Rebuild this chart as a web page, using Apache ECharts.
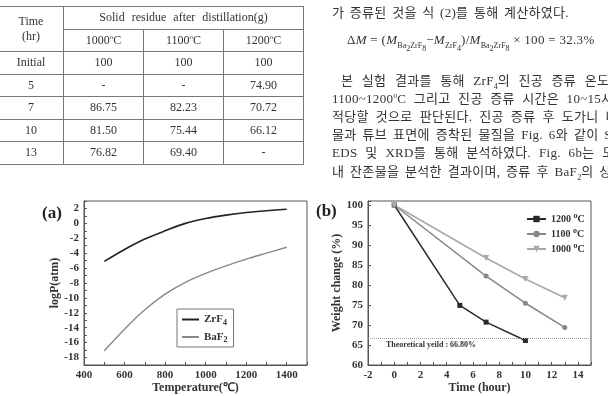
<!DOCTYPE html>
<html>
<head>
<meta charset="utf-8">
<script src="https://cdn.jsdelivr.net/npm/echarts@6/dist/echarts.min.js"></script>
<style>
  html, body { margin: 0; padding: 0; background: #fff; }
  body { width: 608px; height: 396px; position: relative; overflow: hidden; }
  #chart { position: absolute; left: 0; top: 0; width: 608px; height: 396px; }
  #tbl { position: absolute; left: -2px; top: 6px; border-collapse: collapse;
         font-family: "Liberation Serif", serif; font-size: 12px; color: #333; }
  #tbl td { border: 1px solid #777; text-align: center; padding: 0; height: 21.5px; }
  .ln { position: absolute; white-space: nowrap; font-family: "Liberation Serif", "Noto Sans CJK KR", serif;
        font-size: 13px; line-height: 18px; color: #333; letter-spacing: 0.3px; }
  .ln sub { font-size: 8px; line-height: 0; letter-spacing: 0; }
  .ln sup { font-size: 8px; line-height: 0; letter-spacing: 0; }
</style>
</head>
<body>
<div id="chart"></div>
<table id="tbl"></table>
<div id="txt"></div>
<script>
// 표 데이터 (Solid residue after distillation)
const tempCols = ['1000', '1100', '1200'];
const timeRows = ['Initial', '5', '7', '10', '13'];
const hours = [0, 5, 7, 10, 13];
const residue1000 = [100, null, 86.75, 81.50, 76.82];
const residue1100 = [100, null, 82.23, 75.44, 69.40];
const residue1200 = [100, 74.90, 70.72, 66.12, null];
const theoreticalYield = 66.80;

// (a) 증기압 곡선
const temps = [500, 600, 700, 800, 900, 1000, 1100, 1200, 1300, 1400];
const logpZrF4 = [-5.1, -3.5, -2.1, -1.0, 0.0, 0.65, 1.1, 1.45, 1.7, 1.9];
const logpBaF2 = [-17.1, -14.2, -11.6, -9.5, -7.9, -6.7, -5.7, -4.8, -4.0, -3.2];

// 본문 텍스트 [x, 중심 y, 내용, 단어 간격]
const textLines = [
  [332, 13, '가 증류된 것을 식 (2)를 통해 계산하였다.', 2],
  [347, 40, '&Delta;<i>M</i> = (<i>M</i><sub>Ba<sub>2</sub>ZrF<sub>8</sub></sub>&minus;<i>M</i><sub>ZrF<sub>4</sub></sub>)/<i>M</i><sub>Ba<sub>2</sub>ZrF<sub>8</sub></sub> &times; 100 = 32.3%', 0],
  [341, 81, '본 실험 결과를 통해 ZrF<sub>4</sub>의 진공 증류 온도는', 5],
  [332, 99, '1100~1200<sup>o</sup>C 그리고 진공 증류 시간은 10~15시간이', 4],
  [332, 117, '적당할 것으로 판단된다. 진공 증류 후 도가니 내 잔존', 3.5],
  [332, 135, '물과 튜브 표면에 증착된 물질을 Fig. 6와 같이 SEM-', 2.4],
  [332, 153, 'EDS 및 XRD를 통해 분석하였다. Fig. 6b는 도가니', 4.3],
  [332, 172, '내 잔존물을 분석한 결과이며, 증류 후 BaF<sub>2</sub>의 상이', 2.3]
];

// 표 만들기
let tbl = document.getElementById('tbl');
let html = '<tr><td rowspan="2" style="width:64px">Time<br>(hr)</td>' +
  '<td colspan="3" style="word-spacing:4px">Solid residue after distillation(g)</td></tr><tr>';
tempCols.forEach(t => { html += '<td style="width:79px">' + t + '<sup style="font-size:7px">o</sup>C</td>'; });
html += '</tr>';
const fmt = v => v === null ? '-' : (v === 100 ? '100' : v.toFixed(2));
timeRows.forEach((r, i) => {
  html += '<tr><td>' + r + '</td><td>' + fmt(residue1000[i]) + '</td><td>' +
    fmt(residue1100[i]) + '</td><td>' + fmt(residue1200[i]) + '</td></tr>';
});
tbl.innerHTML = html;

let txt = document.getElementById('txt');
textLines.forEach(l => {
  let d = document.createElement('div');
  d.className = 'ln';
  d.style.left = l[0] + 'px';
  d.style.top = (l[1] - 9) + 'px';
  d.style.wordSpacing = l[3] + 'px';
  d.innerHTML = l[2];
  txt.appendChild(d);
});

const serif = '"Liberation Serif", "Times New Roman", serif';
const toPairs = (xs, ys) => xs.map((x, i) => [x, ys[i]]).filter(p => p[1] !== null);

let chart = echarts.init(document.getElementById('chart'));

const axisCommon = {
  axisLine: { show: true, onZero: false, lineStyle: { color: '#555', width: 1 } },
  axisTick: { show: true, inside: true, length: 3, lineStyle: { color: '#555' } },
  splitLine: { show: false },
  nameLocation: 'middle',
  nameTextStyle: { fontFamily: serif, fontWeight: 'bold', fontSize: 12, color: '#333' }
};
const labelStyle = { fontFamily: serif, fontWeight: 'bold', fontSize: 11, color: '#333' };
const richSub = { sub: { fontSize: 8, fontFamily: serif, fontWeight: 'bold', color: '#333', padding: [6, 0, 0, 0] } };
const richSup = { sup: { fontSize: 8, fontFamily: serif, fontWeight: 'bold', color: '#333', padding: [0, 0, 6, 0] } };

let option = {
  animation: false,
  grid: [
    { left: 84, top: 201, width: 223, height: 164, show: true, borderColor: '#555', borderWidth: 1 },
    { left: 368, top: 201, width: 223, height: 164, show: true, borderColor: '#555', borderWidth: 1 }
  ],
  xAxis: [
    Object.assign({}, axisCommon, {
      gridIndex: 0, type: 'value', min: 400, max: 1500, interval: 100,
      name: 'Temperature(\u2103)', nameGap: 17,
      axisLabel: Object.assign({}, labelStyle, { margin: 5,
        formatter: v => (v % 200 === 0 && v < 1500) ? String(v) : '' })
    }),
    Object.assign({}, axisCommon, {
      gridIndex: 1, type: 'value', min: -2, max: 15, interval: 1,
      name: 'Time (hour)', nameGap: 17,
      axisLabel: Object.assign({}, labelStyle, { margin: 5,
        formatter: v => (v % 2 === 0 && v < 15) ? String(v) : '' })
    })
  ],
  yAxis: [
    Object.assign({}, axisCommon, {
      gridIndex: 0, type: 'value', min: -19, max: 3, interval: 1,
      name: 'logP(atm)', nameGap: 19,
      axisLabel: Object.assign({}, labelStyle, { margin: 5,
        formatter: v => (v % 2 === 0) ? String(v) : '' })
    }),
    Object.assign({}, axisCommon, {
      gridIndex: 1, type: 'value', min: 60, max: 101, interval: 5,
      name: 'Weight change (%)', nameGap: 22,
      axisLabel: Object.assign({}, labelStyle, { margin: 5,
        formatter: v => (v % 5 === 0) ? String(v) : '' })
    })
  ],
  legend: [
    {
      data: [{ name: 'ZrF4', icon: 'rect' }, { name: 'BaF2', icon: 'rect' }],
      orient: 'vertical', left: 177, top: 309,
      borderColor: '#777', borderWidth: 1, padding: [5, 6, 3, 5], itemGap: 5,
      itemWidth: 17, itemHeight: 2,
      formatter: n => n.replace(/(\d)/, '{sub|$1}'),
      textStyle: Object.assign({}, labelStyle, { rich: richSub })
    },
    {
      data: ['1200', '1100', '1000'], orient: 'vertical', left: 521, top: 207, itemGap: 3,
      itemWidth: 19, itemHeight: 8,
      formatter: n => n + ' {sup|o}C',
      textStyle: Object.assign({}, labelStyle, { fontSize: 10, rich: richSup })
    }
  ],
  graphic: [
    { type: 'text', left: 42, top: 205, style: { text: '(a)', font: 'bold 17px ' + serif, fill: '#222' } },
    { type: 'text', left: 316, top: 203, style: { text: '(b)', font: 'bold 17px ' + serif, fill: '#222' } }
  ],
  series: [
    { name: 'ZrF4', type: 'line', xAxisIndex: 0, yAxisIndex: 0, smooth: 0.3, symbol: 'none',
      lineStyle: { color: '#222', width: 1.6 }, itemStyle: { color: '#222' },
      data: toPairs(temps, logpZrF4) },
    { name: 'BaF2', type: 'line', xAxisIndex: 0, yAxisIndex: 0, smooth: 0.3, symbol: 'none',
      lineStyle: { color: '#888', width: 1.4 }, itemStyle: { color: '#888' },
      data: toPairs(temps, logpBaF2) },
    { name: '1200', type: 'line', xAxisIndex: 1, yAxisIndex: 1, symbol: 'rect', symbolSize: 5,
      lineStyle: { color: '#2a2a2a', width: 1.5 }, itemStyle: { color: '#2a2a2a' },
      data: toPairs(hours, residue1200),
      markLine: {
        silent: true, symbol: 'none',
        lineStyle: { type: 'dotted', color: '#999', width: 1 },
        label: { position: 'insideStartBottom', distance: [18, 3],
          formatter: 'Theoretical yeild : ' + theoreticalYield.toFixed(2) + '%',
          fontFamily: serif, fontWeight: 'bold', fontSize: 8, color: '#333' },
        data: [{ yAxis: theoreticalYield }]
      } },
    { name: '1100', type: 'line', xAxisIndex: 1, yAxisIndex: 1, symbol: 'circle', symbolSize: 5,
      lineStyle: { color: '#888', width: 1.5 }, itemStyle: { color: '#888' },
      data: toPairs(hours, residue1100) },
    { name: '1000', type: 'line', xAxisIndex: 1, yAxisIndex: 1, symbol: 'triangle', symbolRotate: 180, symbolSize: 6,
      lineStyle: { color: '#a8a8a8', width: 1.5 }, itemStyle: { color: '#a8a8a8' },
      data: toPairs(hours, residue1000) }
  ]
};
chart.setOption(option);
</script>
</body>
</html>
